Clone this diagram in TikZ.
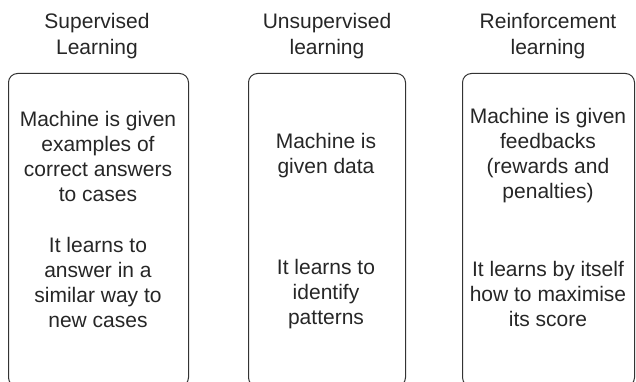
\documentclass[tikz,border=0pt]{standalone}
\usepackage{fontspec}
\setmainfont{Liberation Sans}
\begin{document}
\begin{tikzpicture}[x=1pt,y=-1pt,
  panel/.style={draw=black!80, line width=1pt, rounded corners=9pt,
    anchor=north west, minimum height=313pt, inner sep=0pt},
  txt/.style={align=center, font=\fontsize{21}{25}\selectfont,
    text=black!85, inner sep=0pt},
  head/.style={txt, font=\fontsize{21}{26}\selectfont},
]
\useasboundingbox (0,0) rectangle (636,382);
\clip (0,0) rectangle (636,382);

% column headings
\node[head] (h1) at (97,36)  {Supervised\\Learning};
\node[head] (h2) at (327,36) {Unsupervised\\learning};
\node[head] (h3) at (548,36) {Reinforcement\\learning};

% open-ended panels
\node[panel, minimum width=180pt] (b1) at (8,73)   {};
\node[panel, minimum width=157pt] (b2) at (248,73) {};
\node[panel, minimum width=172pt] (b3) at (462,73) {};

% supervised
\node[txt] (s1) at (98,156) {Machine is given\\examples of\\correct answers\\to cases};
\node[txt] (s2) at (98,282) {It learns to\\answer in a\\similar way to\\new cases};

% unsupervised
\node[txt] (u1) at (326,156) {Machine is\\given data};
\node[txt] (u2) at (326,294) {It learns to\\identify\\patterns};

% reinforcement
\node[txt] (r1) at (548,156) {Machine is given\\feedbacks\\(rewards and\\penalties)};
\node[txt] (r2) at (548,294) {It learns by itself\\how to maximise\\its score};
\end{tikzpicture}
\end{document}
